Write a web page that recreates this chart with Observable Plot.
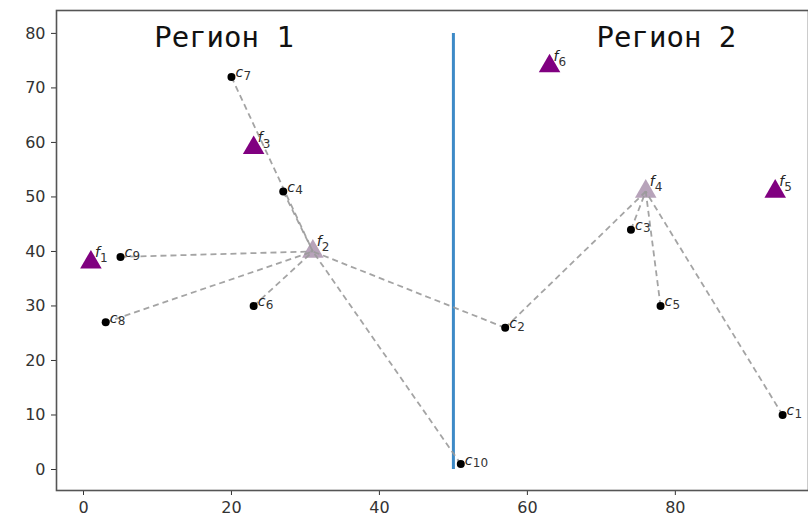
<!DOCTYPE html>
<html>
<head>
<meta charset="utf-8">
<script src="https://cdn.jsdelivr.net/npm/d3@7"></script>
<script src="https://cdn.jsdelivr.net/npm/@observablehq/plot@0.6"></script>
<style>
  html, body { margin: 0; padding: 0; background: #fff; }
  #chart svg { display: block; }
</style>
</head>
<body>
<div id="chart"></div>
<script>
// Clients
const clientIds = ["1","2","3","4","5","6","7","8","9","10"];
const clientX = [94.5, 57, 74, 27, 78, 23, 20, 3, 5, 51];
const clientY = [10, 26, 44, 51, 30, 30, 72, 27, 39, 1];
// Facilities
const facilityIds = ["1","2","3","4","5","6"];
const facilityX = [1, 31, 23, 76, 93.5, 63];
const facilityY = [38, 40, 59, 51, 51, 74];
const facilityOpen = [false, true, false, true, false, false];
// Links: client id -> facility id
const linkClient = ["1","2","3","5","2","4","6","7","8","9","10"];
const linkFacility = ["4","4","4","4","2","2","2","2","2","2","2"];
// Region divider and labels
const dividerX = 50;
const dividerY = [0, 80];
const regionLabels = ["Регион 1", "Регион 2"];
const regionX = [19, 78.8];
const regionY = [79.2, 79.2];
const xTicks = [0, 20, 40, 60, 80];
const yTicks = [0, 10, 20, 30, 40, 50, 60, 70, 80];

const clients = clientIds.map((id, i) => ({id, x: clientX[i], y: clientY[i]}));
const facilities = facilityIds.map((id, i) => ({id, x: facilityX[i], y: facilityY[i], open: facilityOpen[i]}));
const cById = new Map(clients.map(d => [d.id, d]));
const fById = new Map(facilities.map(d => [d.id, d]));
const links = linkClient.map((c, i) => ({c: cById.get(c), f: fById.get(linkFacility[i])}));
const regions = regionLabels.map((t, i) => ({t, x: regionX[i], y: regionY[i]}));

const chart = Plot.plot({
  width: 808,
  height: 520,
  marginLeft: 56,
  marginRight: 0,
  marginTop: 10,
  marginBottom: 30,
  style: {fontFamily: "DejaVu Sans", fontSize: "16px", color: "#333", background: "#fff"},
  x: {domain: [-3.65, 98], ticks: xTicks, tickSize: 5, tickPadding: 6, label: null},
  y: {domain: [-3.85, 84.2], ticks: yTicks, tickSize: 5, tickPadding: 6, label: null},
  marks: [
    Plot.frame({stroke: "#555", strokeWidth: 1.6}),
    Plot.ruleX([dividerX], {y1: dividerY[0], y2: dividerY[1], stroke: "#3d8ac7", strokeWidth: 3}),
    Plot.dot(facilities, {x: "x", y: "y", symbol: "triangle", r: 8,
      fill: d => d.open ? "#b7a3ba" : "purple", stroke: "none"}),
    Plot.link(links, {x1: d => d.c.x, y1: d => d.c.y, x2: d => d.f.x, y2: d => d.f.y,
      stroke: "#9a9a9a", strokeWidth: 1.8, strokeDasharray: "6,4", strokeOpacity: 0.9}),
    Plot.dot(clients, {x: "x", y: "y", r: 4, fill: "black"}),
    // labels: italic letter + index
    Plot.text(clients, {x: "x", y: "y", text: () => "c", dx: 4, dy: -4, textAnchor: "start",
      fontStyle: "italic", fontSize: 14, fill: "#222"}),
    Plot.text(clients, {x: "x", y: "y", text: "id", dx: 12, dy: -1, textAnchor: "start",
      fontSize: 12, fill: "#333"}),
    Plot.text(facilities, {x: "x", y: "y", text: () => "f", dx: 4, dy: -10, textAnchor: "start",
      fontStyle: "italic", fontSize: 14, fill: "#222"}),
    Plot.text(facilities, {x: "x", y: "y", text: "id", dx: 9, dy: -4, textAnchor: "start",
      fontSize: 12, fill: "#333"}),
    Plot.text(regions, {x: "x", y: "y", text: "t", fontFamily: "DejaVu Sans Mono",
      fontSize: 29, fill: "#111", textAnchor: "middle", lineAnchor: "middle"})
  ]
});
document.getElementById("chart").append(chart);
</script>
</body>
</html>
